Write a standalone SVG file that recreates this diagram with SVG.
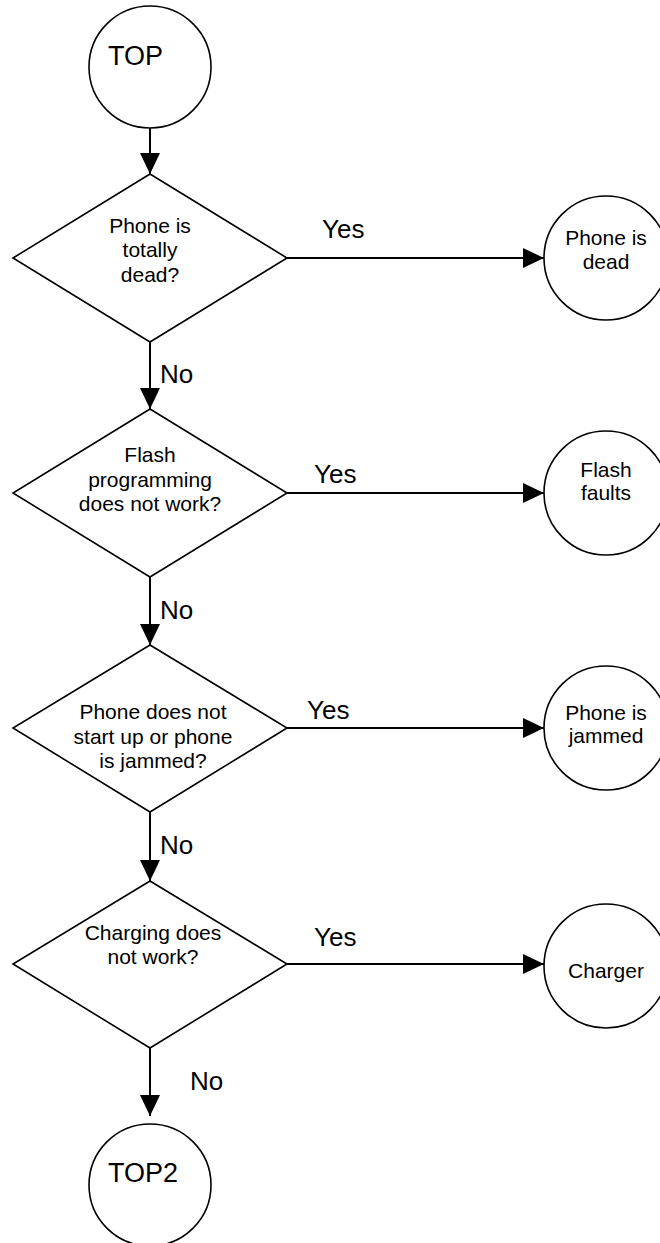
<svg xmlns="http://www.w3.org/2000/svg" width="660" height="1243" viewBox="0 0 660 1243">
<style>
.shape{fill:#fff;stroke:#000;stroke-width:1.6}
.conn{fill:none;stroke:#000;stroke-width:2}
.t{font-family:"Liberation Sans",Arial,sans-serif;font-size:21px;fill:#000;text-anchor:middle}
.big{font-family:"Liberation Sans",Arial,sans-serif;font-size:27px;fill:#000}
.lbl{font-family:"Liberation Sans",Arial,sans-serif;font-size:26px;fill:#000}
</style>
<defs>
<marker id="ah" markerUnits="userSpaceOnUse" markerWidth="22" markerHeight="22" refX="21" refY="10" orient="auto">
<path d="M0,0 L21,10 L0,20 z" fill="#000"/>
</marker>
</defs>
<rect width="660" height="1243" fill="#fff"/>
<g id="connectors">
<line class="conn" x1="150" y1="128" x2="150" y2="174" marker-end="url(#ah)"/>
<line class="conn" x1="287" y1="258" x2="544" y2="258" marker-end="url(#ah)"/>
<line class="conn" x1="150" y1="342" x2="150" y2="409" marker-end="url(#ah)"/>
<line class="conn" x1="287" y1="493" x2="544" y2="493" marker-end="url(#ah)"/>
<line class="conn" x1="150" y1="577" x2="150" y2="645" marker-end="url(#ah)"/>
<line class="conn" x1="287" y1="728" x2="544" y2="728" marker-end="url(#ah)"/>
<line class="conn" x1="150" y1="812" x2="150" y2="881" marker-end="url(#ah)"/>
<line class="conn" x1="287" y1="964" x2="544" y2="964" marker-end="url(#ah)"/>
<line class="conn" x1="150" y1="1048" x2="150" y2="1116" marker-end="url(#ah)"/>
<text class="lbl" x="322" y="238">Yes</text>
<text class="lbl" x="314" y="483">Yes</text>
<text class="lbl" x="307" y="719">Yes</text>
<text class="lbl" x="314" y="946">Yes</text>
<text class="lbl" x="160" y="383">No</text>
<text class="lbl" x="160" y="619">No</text>
<text class="lbl" x="160" y="854">No</text>
<text class="lbl" x="190" y="1090">No</text>
</g>
<g id="top">
<circle class="shape" cx="150" cy="67" r="61"/>
<text class="big" x="108" y="65">TOP</text>
</g>
<g id="q1">
<polygon class="shape" points="150,174 287,258 150,342 13,258"/>
<text class="t" x="150" y="233">Phone is</text>
<text class="t" x="150" y="257">totally</text>
<text class="t" x="150" y="282">dead?</text>
</g>
<g id="dead">
<circle class="shape" cx="606" cy="258" r="62"/>
<text class="t" x="606" y="245">Phone is</text>
<text class="t" x="606" y="269">dead</text>
</g>
<g id="q2">
<polygon class="shape" points="150,409 287,493 150,577 13,493"/>
<text class="t" x="150" y="462">Flash</text>
<text class="t" x="150" y="487">programming</text>
<text class="t" x="150" y="511">does not work?</text>
</g>
<g id="flash">
<circle class="shape" cx="606" cy="493" r="62"/>
<text class="t" x="606" y="477">Flash</text>
<text class="t" x="606" y="500">faults</text>
</g>
<g id="q3">
<polygon class="shape" points="150,645 287,728 150,812 13,728"/>
<text class="t" x="153" y="719">Phone does not</text>
<text class="t" x="153" y="744">start up or phone</text>
<text class="t" x="153" y="768">is jammed?</text>
</g>
<g id="jammed">
<circle class="shape" cx="606" cy="728" r="62"/>
<text class="t" x="606" y="720">Phone is</text>
<text class="t" x="606" y="743">jammed</text>
</g>
<g id="q4">
<polygon class="shape" points="150,881 287,964 150,1048 13,964"/>
<text class="t" x="153" y="940">Charging does</text>
<text class="t" x="153" y="964">not work?</text>
</g>
<g id="charger">
<circle class="shape" cx="606" cy="966" r="62"/>
<text class="t" x="606" y="978">Charger</text>
</g>
<g id="top2">
<circle class="shape" cx="150" cy="1185" r="61"/>
<text class="big" x="108" y="1182">TOP2</text>
</g>
</svg>
